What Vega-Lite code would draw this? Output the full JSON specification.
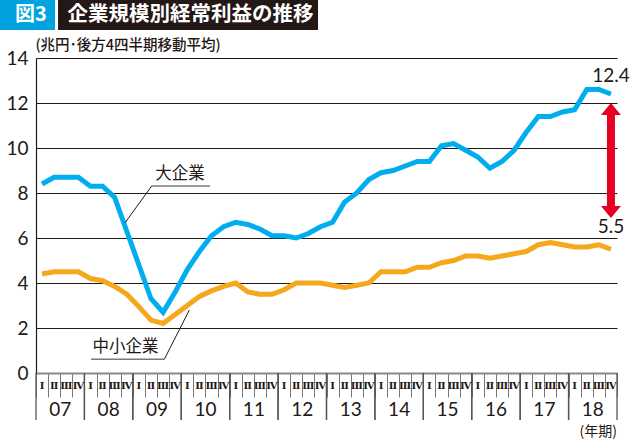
{
  "$schema": "https://vega.github.io/schema/vega-lite/v6.json",
  "width": 581,
  "height": 315,
  "autosize": {"type": "none"},
  "padding": {"left": 36, "top": 58, "right": 21, "bottom": 73},
  "background": "white",
  "config": {"view": {"stroke": null}, "font": "Lato"},
  "resolve": {"scale": {"x": "independent", "y": "independent"}},
  "layer": [
    {
      "data": {
        "values": [
          {"q": "2007Q1", "year": "07", "qn": 1, "roman": "Ⅰ", "large": 8.4, "small": 4.4},
          {"q": "2007Q2", "year": "07", "qn": 2, "roman": "Ⅱ", "large": 8.7, "small": 4.5},
          {"q": "2007Q3", "year": "07", "qn": 3, "roman": "Ⅲ", "large": 8.7, "small": 4.5},
          {"q": "2007Q4", "year": "07", "qn": 4, "roman": "Ⅳ", "large": 8.7, "small": 4.5},
          {"q": "2008Q1", "year": "08", "qn": 1, "roman": "Ⅰ", "large": 8.3, "small": 4.2},
          {"q": "2008Q2", "year": "08", "qn": 2, "roman": "Ⅱ", "large": 8.3, "small": 4.1},
          {"q": "2008Q3", "year": "08", "qn": 3, "roman": "Ⅲ", "large": 7.8, "small": 3.85},
          {"q": "2008Q4", "year": "08", "qn": 4, "roman": "Ⅳ", "large": 6.3, "small": 3.5},
          {"q": "2009Q1", "year": "09", "qn": 1, "roman": "Ⅰ", "large": 4.8, "small": 2.95},
          {"q": "2009Q2", "year": "09", "qn": 2, "roman": "Ⅱ", "large": 3.3, "small": 2.35},
          {"q": "2009Q3", "year": "09", "qn": 3, "roman": "Ⅲ", "large": 2.7, "small": 2.2},
          {"q": "2009Q4", "year": "09", "qn": 4, "roman": "Ⅳ", "large": 3.6, "small": 2.6},
          {"q": "2010Q1", "year": "10", "qn": 1, "roman": "Ⅰ", "large": 4.6, "small": 3.0},
          {"q": "2010Q2", "year": "10", "qn": 2, "roman": "Ⅱ", "large": 5.4, "small": 3.4},
          {"q": "2010Q3", "year": "10", "qn": 3, "roman": "Ⅲ", "large": 6.1, "small": 3.65},
          {"q": "2010Q4", "year": "10", "qn": 4, "roman": "Ⅳ", "large": 6.5, "small": 3.85},
          {"q": "2011Q1", "year": "11", "qn": 1, "roman": "Ⅰ", "large": 6.7, "small": 4.0},
          {"q": "2011Q2", "year": "11", "qn": 2, "roman": "Ⅱ", "large": 6.6, "small": 3.6},
          {"q": "2011Q3", "year": "11", "qn": 3, "roman": "Ⅲ", "large": 6.4, "small": 3.5},
          {"q": "2011Q4", "year": "11", "qn": 4, "roman": "Ⅳ", "large": 6.1, "small": 3.5},
          {"q": "2012Q1", "year": "12", "qn": 1, "roman": "Ⅰ", "large": 6.1, "small": 3.7},
          {"q": "2012Q2", "year": "12", "qn": 2, "roman": "Ⅱ", "large": 6.0, "small": 4.0},
          {"q": "2012Q3", "year": "12", "qn": 3, "roman": "Ⅲ", "large": 6.2, "small": 4.0},
          {"q": "2012Q4", "year": "12", "qn": 4, "roman": "Ⅳ", "large": 6.5, "small": 4.0},
          {"q": "2013Q1", "year": "13", "qn": 1, "roman": "Ⅰ", "large": 6.7, "small": 3.9},
          {"q": "2013Q2", "year": "13", "qn": 2, "roman": "Ⅱ", "large": 7.6, "small": 3.8},
          {"q": "2013Q3", "year": "13", "qn": 3, "roman": "Ⅲ", "large": 8.0, "small": 3.9},
          {"q": "2013Q4", "year": "13", "qn": 4, "roman": "Ⅳ", "large": 8.6, "small": 4.0},
          {"q": "2014Q1", "year": "14", "qn": 1, "roman": "Ⅰ", "large": 8.9, "small": 4.5},
          {"q": "2014Q2", "year": "14", "qn": 2, "roman": "Ⅱ", "large": 9.0, "small": 4.5},
          {"q": "2014Q3", "year": "14", "qn": 3, "roman": "Ⅲ", "large": 9.2, "small": 4.5},
          {"q": "2014Q4", "year": "14", "qn": 4, "roman": "Ⅳ", "large": 9.4, "small": 4.7},
          {"q": "2015Q1", "year": "15", "qn": 1, "roman": "Ⅰ", "large": 9.4, "small": 4.7},
          {"q": "2015Q2", "year": "15", "qn": 2, "roman": "Ⅱ", "large": 10.1, "small": 4.9},
          {"q": "2015Q3", "year": "15", "qn": 3, "roman": "Ⅲ", "large": 10.2, "small": 5.0},
          {"q": "2015Q4", "year": "15", "qn": 4, "roman": "Ⅳ", "large": 9.9, "small": 5.2},
          {"q": "2016Q1", "year": "16", "qn": 1, "roman": "Ⅰ", "large": 9.6, "small": 5.2},
          {"q": "2016Q2", "year": "16", "qn": 2, "roman": "Ⅱ", "large": 9.1, "small": 5.1},
          {"q": "2016Q3", "year": "16", "qn": 3, "roman": "Ⅲ", "large": 9.4, "small": 5.2},
          {"q": "2016Q4", "year": "16", "qn": 4, "roman": "Ⅳ", "large": 9.9, "small": 5.3},
          {"q": "2017Q1", "year": "17", "qn": 1, "roman": "Ⅰ", "large": 10.7, "small": 5.4},
          {"q": "2017Q2", "year": "17", "qn": 2, "roman": "Ⅱ", "large": 11.4, "small": 5.7},
          {"q": "2017Q3", "year": "17", "qn": 3, "roman": "Ⅲ", "large": 11.4, "small": 5.8},
          {"q": "2017Q4", "year": "17", "qn": 4, "roman": "Ⅳ", "large": 11.6, "small": 5.7},
          {"q": "2018Q1", "year": "18", "qn": 1, "roman": "Ⅰ", "large": 11.7, "small": 5.6},
          {"q": "2018Q2", "year": "18", "qn": 2, "roman": "Ⅱ", "large": 12.6, "small": 5.6},
          {"q": "2018Q3", "year": "18", "qn": 3, "roman": "Ⅲ", "large": 12.6, "small": 5.7},
          {"q": "2018Q4", "year": "18", "qn": 4, "roman": "Ⅳ", "large": 12.4, "small": 5.5}
        ]
      },
      "layer": [
        {
          "mark": {"type": "line", "color": "#00AEEF", "strokeWidth": 5},
          "encoding": {
            "x": {
              "field": "q", "type": "ordinal", "bandPosition": 0.5, "title": null,
              "scale": {"type": "band", "paddingInner": 0, "paddingOuter": 0},
              "axis": {
                "orient": "bottom", "labels": false,
                "tickBand": "extent", "tickSize": 24, "tickColor": "#777777", "tickWidth": 1,
                "domainColor": "#8a8a8a", "domainWidth": 2
              }
            },
            "y": {
              "field": "large", "type": "quantitative", "title": null,
              "scale": {"domain": [0, 14], "nice": false},
              "axis": {
                "orient": "left",
                "values": [0, 2, 4, 6, 8, 10, 12, 14], "grid": true, "gridColor": "#231815", "gridWidth": 1,
                "ticks": false, "domainColor": "#231815", "domainWidth": 1.2,
                "labelFontSize": 19, "labelColor": "#231815", "labelPadding": 8, "labelFont": "Lato"
              }
            }
          }
        },
        {
          "mark": {"type": "line", "color": "#F5A81C", "strokeWidth": 5},
          "encoding": {
            "x": {"field": "q", "type": "ordinal", "bandPosition": 0.5, "title": null},
            "y": {"field": "small", "type": "quantitative", "title": null}
          }
        },
        {
          "transform": [{"filter": "datum.qn == 1"}],
          "mark": {"type": "rule", "color": "#555555", "strokeWidth": 1.3},
          "encoding": {
            "x": {"field": "q", "type": "ordinal", "bandPosition": 0, "title": null},
            "y": {"datum": 0},
            "y2": {"datum": -2.09}
          }
        },
        {
          "transform": [{"filter": "datum.qn == 4"}],
          "mark": {"type": "rule", "color": "#555555", "strokeWidth": 1.3},
          "encoding": {
            "x": {"field": "q", "type": "ordinal", "bandPosition": 1, "title": null},
            "y": {"datum": 0},
            "y2": {"datum": -2.09}
          }
        },
        {
          "mark": {"type": "text", "fontSize": 10, "fontWeight": "bold", "color": "#231815", "baseline": "middle", "align": "center", "font": "DejaVu Serif"},
          "encoding": {
            "x": {"field": "q", "type": "ordinal", "bandPosition": 0.5, "title": null},
            "y": {"datum": -0.58},
            "text": {"field": "roman", "type": "nominal"}
          }
        },
        {
          "transform": [{"filter": "datum.qn == 3"}],
          "mark": {"type": "text", "fontSize": 19, "color": "#231815", "baseline": "middle", "align": "center", "font": "Lato"},
          "encoding": {
            "x": {"field": "q", "type": "ordinal", "bandPosition": 0, "title": null},
            "y": {"datum": -1.64},
            "text": {"field": "year", "type": "nominal"}
          }
        }
      ]
    },
    {
      "data": {"values": [{}]},
      "layer": [
        {
          "mark": {"type": "rect", "color": "#00A3E0"},
          "encoding": {
            "x": {"datum": -3.2, "type": "quantitative", "scale": {"domain": [0, 48], "nice": false, "zero": false}, "axis": null},
            "x2": {"datum": 1.57},
            "y": {"datum": 15.24, "type": "quantitative", "scale": {"domain": [0, 14], "nice": false, "zero": false}, "axis": null},
            "y2": {"datum": 16.8}
          }
        },
        {
          "mark": {"type": "rect", "color": "#231815"},
          "encoding": {
            "x": {"datum": 1.82, "type": "quantitative", "axis": null},
            "x2": {"datum": 23.3},
            "y": {"datum": 15.24, "type": "quantitative", "axis": null},
            "y2": {"datum": 16.8}
          }
        },
        {
          "mark": {"type": "text", "text": "図3", "color": "white", "fontSize": 20, "fontWeight": "bold", "font": "Noto Sans CJK JP", "align": "center", "baseline": "middle"},
          "encoding": {
            "x": {"datum": -0.42, "type": "quantitative", "axis": null},
            "y": {"datum": 15.9, "type": "quantitative", "axis": null}
          }
        },
        {
          "mark": {"type": "text", "text": "企業規模別経常利益の推移", "color": "white", "fontSize": 20.5, "fontWeight": "bold", "font": "Noto Sans CJK JP", "align": "center", "baseline": "middle"},
          "encoding": {
            "x": {"datum": 12.77, "type": "quantitative", "axis": null},
            "y": {"datum": 15.9, "type": "quantitative", "axis": null}
          }
        },
        {
          "mark": {"type": "text", "text": "(兆円･後方4四半期移動平均)", "color": "#231815", "fontSize": 14.5, "fontWeight": 500, "font": "Noto Sans CJK JP", "align": "left", "baseline": "middle"},
          "encoding": {
            "x": {"datum": -0.05, "type": "quantitative", "axis": null},
            "y": {"datum": 14.53, "type": "quantitative", "axis": null}
          }
        },
        {
          "mark": {"type": "text", "text": "大企業", "color": "#231815", "fontSize": 16.5, "font": "Noto Sans CJK JP", "align": "center", "baseline": "middle"},
          "encoding": {
            "x": {"datum": 11.9, "type": "quantitative", "axis": null},
            "y": {"datum": 8.84, "type": "quantitative", "axis": null}
          }
        },
        {
          "mark": {"type": "rule", "color": "#7a7a7a", "strokeWidth": 1.5},
          "encoding": {
            "x": {"datum": 9.56, "type": "quantitative", "axis": null},
            "x2": {"datum": 14.38},
            "y": {"datum": 8.31, "type": "quantitative", "axis": null},
            "y2": {"datum": 8.31}
          }
        },
        {
          "mark": {"type": "rule", "color": "#231815", "strokeWidth": 1},
          "encoding": {
            "x": {"datum": 9.56, "type": "quantitative", "axis": null},
            "x2": {"datum": 7.36},
            "y": {"datum": 8.31, "type": "quantitative", "axis": null},
            "y2": {"datum": 6.68}
          }
        },
        {
          "mark": {"type": "text", "text": "中小企業", "color": "#231815", "fontSize": 16.5, "font": "Noto Sans CJK JP", "align": "center", "baseline": "middle"},
          "encoding": {
            "x": {"datum": 7.4, "type": "quantitative", "axis": null},
            "y": {"datum": 1.16, "type": "quantitative", "axis": null}
          }
        },
        {
          "mark": {"type": "rule", "color": "#7a7a7a", "strokeWidth": 1.5},
          "encoding": {
            "x": {"datum": 4.55, "type": "quantitative", "axis": null},
            "x2": {"datum": 10.6},
            "y": {"datum": 0.61, "type": "quantitative", "axis": null},
            "y2": {"datum": 0.61}
          }
        },
        {
          "mark": {"type": "rule", "color": "#231815", "strokeWidth": 1},
          "encoding": {
            "x": {"datum": 10.6, "type": "quantitative", "axis": null},
            "x2": {"datum": 12.67},
            "y": {"datum": 0.61, "type": "quantitative", "axis": null},
            "y2": {"datum": 2.8}
          }
        },
        {
          "mark": {"type": "rule", "color": "#E50021", "strokeWidth": 8},
          "encoding": {
            "x": {"datum": 47.5, "type": "quantitative", "axis": null},
            "y": {"datum": 11.5, "type": "quantitative", "axis": null},
            "y2": {"datum": 7.4}
          }
        },
        {
          "mark": {"type": "point", "shape": "M0,0L1,1.2L-1,1.2Z", "size": 400, "filled": true, "opacity": 1, "color": "#E50021", "strokeWidth": 0},
          "encoding": {
            "x": {"datum": 47.5, "type": "quantitative", "axis": null},
            "y": {"datum": 12.0, "type": "quantitative", "axis": null}
          }
        },
        {
          "mark": {"type": "point", "shape": "M0,0L1,-1.2L-1,-1.2Z", "size": 400, "filled": true, "opacity": 1, "color": "#E50021", "strokeWidth": 0},
          "encoding": {
            "x": {"datum": 47.5, "type": "quantitative", "axis": null},
            "y": {"datum": 6.89, "type": "quantitative", "axis": null}
          }
        },
        {
          "mark": {"type": "text", "text": "12.4", "color": "#231815", "fontSize": 19, "font": "Lato", "align": "center", "baseline": "middle"},
          "encoding": {
            "x": {"datum": 47.5, "type": "quantitative", "axis": null},
            "y": {"datum": 13.18, "type": "quantitative", "axis": null}
          }
        },
        {
          "mark": {"type": "text", "text": "5.5", "color": "#231815", "fontSize": 19, "font": "Lato", "align": "center", "baseline": "middle"},
          "encoding": {
            "x": {"datum": 47.5, "type": "quantitative", "axis": null},
            "y": {"datum": 6.47, "type": "quantitative", "axis": null}
          }
        },
        {
          "mark": {"type": "text", "text": "(年期)", "color": "#231815", "fontSize": 14, "font": "Noto Sans CJK JP", "align": "right", "baseline": "middle"},
          "encoding": {
            "x": {"datum": 48, "type": "quantitative", "axis": null},
            "y": {"datum": -2.62, "type": "quantitative", "axis": null}
          }
        }
      ]
    }
  ]
}
